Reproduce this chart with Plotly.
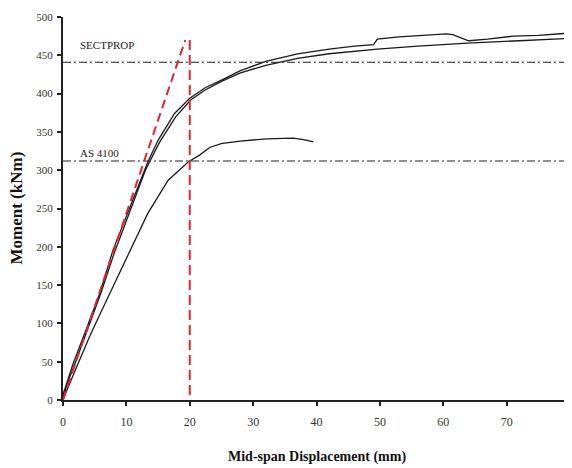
import plotly.graph_objects as go

# Upper test curve A (with step near 50 mm)
a_x = [0, 0.1, 0.4, 1.5, 3.6, 5.8, 7.9, 10.5, 13.4, 15.0, 17.6, 20.0, 22.5, 25.1, 28, 32, 37, 42, 46, 49, 49.6, 53, 57, 60.5, 61.5, 64, 67, 71, 75, 80]
a_y = [0, 10, 17, 45, 91, 139, 196, 250, 311, 339, 374, 394, 408, 418, 430, 442, 452, 458, 462, 464, 471, 474, 476, 478, 477, 469, 471, 475, 476, 479]

# Upper test curve B (smooth)
b_x = [0, 0.2, 0.6, 2, 4, 6, 8, 10.5, 13, 15.2, 17.8, 20.2, 22.5, 25, 28, 32, 37, 42, 49.6, 56, 63.8, 72, 80]
b_y = [0, 8, 20, 50, 95, 140, 190, 245, 300, 336, 370, 392, 405, 416, 427, 437, 446, 452, 458, 462, 466, 469, 472]

# Lower test curve
c_x = [0, 0.2, 0.43, 2, 4.2, 6, 8, 9.9, 13.4, 16.6, 19.8, 21.6, 22.5, 23.2, 25.1, 28, 32.2, 36.3, 38, 39.5]
c_y = [0, 5, 9, 40, 83, 115, 150, 183, 244, 287, 311, 320, 326, 330, 335, 338, 341, 342, 340, 337]

# Red dashed construction lines
red_slope_x = [0, 19.3]
red_slope_y = [0, 470]
red_vert_x = [20, 20]
red_vert_y = [470, 0]

# Reference moment levels
sectprop = 441
as4100 = 312
x_span = [0, 80]

x_ticks = [0, 10, 20, 30, 40, 50, 60, 70, 80]
y_ticks = [0, 50, 100, 150, 200, 250, 300, 350, 400, 450, 500]

fig = go.Figure()
for xs, ys in [(a_x, a_y), (b_x, b_y), (c_x, c_y)]:
    fig.add_trace(go.Scatter(x=xs, y=ys, mode="lines",
                             line=dict(color="#1a1a1a", width=1.3)))
for lvl in [sectprop, as4100]:
    fig.add_trace(go.Scatter(x=x_span, y=[lvl, lvl], mode="lines",
                             line=dict(color="#222222", width=1.1, dash="8px,3px,2px,3px")))
fig.add_trace(go.Scatter(x=red_slope_x, y=red_slope_y, mode="lines",
                         line=dict(color="#e3262f", width=2, dash="9px,5px")))
fig.add_trace(go.Scatter(x=red_vert_x, y=red_vert_y, mode="lines",
                         line=dict(color="#e3262f", width=2, dash="10px,5px")))

fig.add_annotation(x=2.4, y=463, text="SECTPROP", showarrow=False, xanchor="left",
                   font=dict(family="Liberation Serif", size=11, color="#222"))
fig.add_annotation(x=2.4, y=322, text="AS 4100", showarrow=False, xanchor="left",
                   font=dict(family="Liberation Serif", size=11, color="#222"))

# Axis titles placed as annotations relative to the plot area
fig.add_annotation(xref="paper", yref="paper", x=0.5, y=0, xshift=0, yshift=-57,
                   text="<b>Mid-span Displacement (mm)</b>", showarrow=False,
                   xanchor="center", yanchor="middle",
                   font=dict(family="Liberation Serif", size=14, color="#111"))
fig.add_annotation(xref="paper", yref="paper", x=0, y=0.5, xshift=-47, yshift=0,
                   text="<b>Moment (kNm)</b>", showarrow=False, textangle=-90,
                   xanchor="center", yanchor="middle",
                   font=dict(family="Liberation Serif", size=17, color="#111"))

fig.update_layout(
    width=572, height=468,
    margin=dict(l=55, r=10, t=9, b=76),
    paper_bgcolor="white", plot_bgcolor="white",
    showlegend=False,
    font=dict(family="Liberation Serif", size=12, color="#333"),
    xaxis=dict(range=[0, 80], tickvals=x_ticks, showgrid=False, zeroline=False,
               showline=True, linecolor="#222", linewidth=2, automargin=False,
               ticks="outside", ticklen=4, tickwidth=2, tickcolor="#222",
               ticklabelstandoff=6, tickfont=dict(size=12)),
    yaxis=dict(range=[0, 500], tickvals=y_ticks, showgrid=False, zeroline=False,
               showline=True, linecolor="#222", linewidth=2, automargin=False,
               ticks="outside", ticklen=4, tickwidth=2, tickcolor="#222",
               ticklabelstandoff=2, tickfont=dict(size=11)),
)

fig.write_html("out.html")
